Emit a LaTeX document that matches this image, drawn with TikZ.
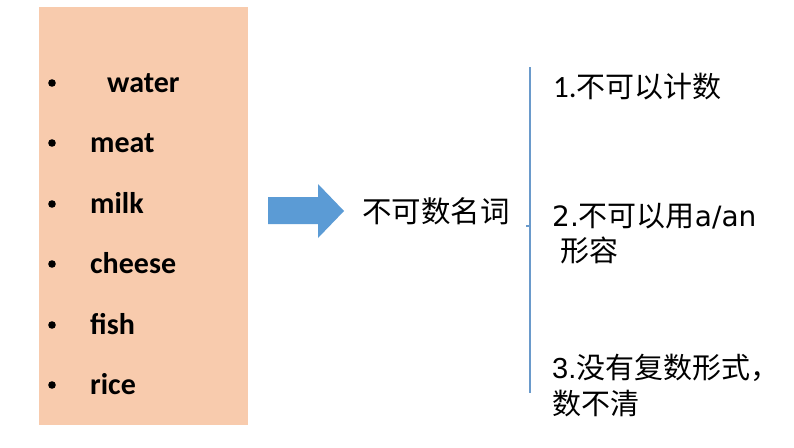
\documentclass[tikz,border=0pt]{standalone}
\usepackage{fontspec}
\setmainfont{Carlito}
\newfontfamily\cjk{Noto Sans CJK SC}
\newfontfamily\roundfont{DejaVu Sans}
\newfontfamily\arialfont{Liberation Sans}
\definecolor{peach}{HTML}{F8CBAD}
\definecolor{arrowblue}{HTML}{5B9BD5}
\definecolor{bracecol}{HTML}{6A9ACB}
\begin{document}
\begin{tikzpicture}[x=1pt,y=-1pt,
  word/.style={anchor=base west,inner sep=0pt,font=\fontsize{30}{36}\selectfont\bfseries},
  bulletdot/.style={circle,fill=black,inner sep=0pt,minimum size=7.6pt},
  cjktext/.style={anchor=base west,inner sep=0pt,font=\fontsize{29}{34}\selectfont}]
\useasboundingbox (0,0) rectangle (794,447);
\fill[white] (0,0) rectangle (794,447);
\fill[peach] (39,7) rectangle (248,425);
% bullets and words
\node[bulletdot] (b1) at (52,83) {};
\node[bulletdot] (b2) at (52,143) {};
\node[bulletdot] (b3) at (52,204) {};
\node[bulletdot] (b4) at (52,264) {};
\node[bulletdot] (b5) at (52,325) {};
\node[bulletdot] (b6) at (52,385) {};
\node[word] (w1) at (107,92) {water};
\node[word] (w2) at (90,152) {meat};
\node[word] (w3) at (90,213) {milk};
\node[word] (w4) at (90,273) {cheese};
\node[word] (w5) at (90,334) {fish};
\node[word] (w6) at (90,394) {rice};
% block arrow
\fill[arrowblue] (268,197) -- (318,197) -- (318,184) -- (344,211) -- (318,238) -- (318,224) -- (268,224) -- cycle;
% title
\node[cjktext,font=\fontsize{29.5}{34}\selectfont] (title) at (362,222) {\cjk 不可数名词};
% brace
\draw[bracecol,line width=1.1pt] (530,67) -- (530,393);
\draw[bracecol,line width=1.1pt] (530,226) -- (526,226);
% right texts
\node[cjktext] (r1) at (553,97) {{\fontsize{31}{34}\selectfont 1.}{\cjk 不可以计数}};
\node[cjktext] (r2) at (552,226) {{\roundfont\fontsize{28}{34}\selectfont 2.}{\cjk 不可以用}{\roundfont\fontsize{28}{34}\selectfont a/an}};
\node[cjktext] (r2b) at (560,261) {\cjk 形容};
\node[cjktext] (r3) at (552,378) {{\arialfont\fontsize{29}{34}\selectfont 3.}{\cjk 没有复数形式，}};
\node[cjktext] (r3b) at (552,414) {\cjk 数不清};
\end{tikzpicture}
\end{document}
